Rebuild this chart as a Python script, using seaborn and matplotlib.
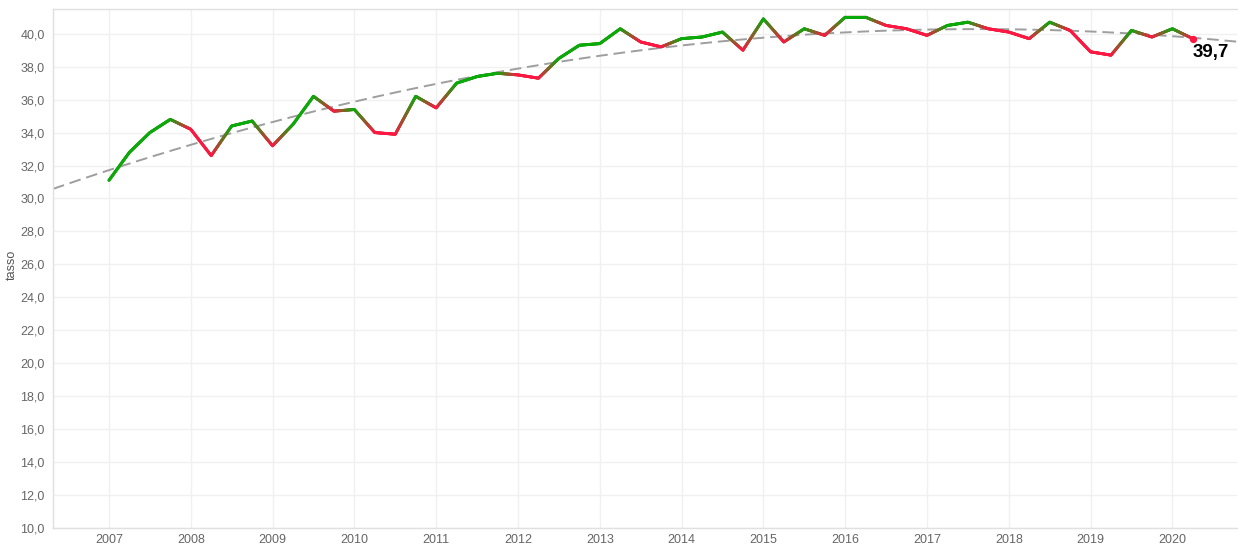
import numpy as np
import pandas as pd
import matplotlib
matplotlib.use("Agg")
import matplotlib.pyplot as plt
import seaborn as sns
from matplotlib.collections import LineCollection
from matplotlib.colors import to_rgb

# ---- data (quarterly, 2007 Q1 .. 2020 Q2) ----
years = [2007, 2008, 2009, 2010, 2011, 2012, 2013, 2014, 2015, 2016, 2017, 2018, 2019, 2020]
quarters = [0.0, 0.25, 0.5, 0.75]
tasso = [
    31.1, 32.8, 34.0, 34.8,   # 2007
    34.2, 32.6, 34.4, 34.7,   # 2008
    33.2, 34.5, 36.2, 35.3,   # 2009
    35.4, 34.0, 33.9, 36.2,   # 2010
    35.5, 37.0, 37.4, 37.6,   # 2011
    37.5, 37.3, 38.5, 39.3,   # 2012
    39.4, 40.3, 39.5, 39.2,   # 2013
    39.7, 39.8, 40.1, 39.0,   # 2014
    40.9, 39.5, 40.3, 39.9,   # 2015
    41.0, 41.0, 40.5, 40.3,   # 2016
    39.9, 40.5, 40.7, 40.3,   # 2017
    40.1, 39.7, 40.7, 40.2,   # 2018
    38.9, 38.7, 40.2, 39.8,   # 2019
    40.3, 39.7,               # 2020
]
y_ticks = list(np.arange(10, 41, 2))
last_label = "39,7"

time = [y + q for y in years for q in quarters][:len(tasso)]
df = pd.DataFrame({"time": time, "tasso": tasso})

GREEN = "#0aaa0a"
RED = "#ff1744"

sns.set_theme(style="white")
plt.rcParams["font.family"] = ["Liberation Sans", "DejaVu Sans"]

fig = plt.figure(figsize=(12.38, 5.44), dpi=100)
ax = fig.add_axes([53 / 1238, 1 - 528 / 544, (1237 - 53) / 1238, (528 - 9) / 544])

xmin, xmax = 2006.316, 2020.79
ax.set_xlim(xmin, xmax)
ax.set_ylim(10.0, 41.5)

# trend (quadratic fit)
coef = np.polyfit(df["time"] - 2013, df["tasso"], 2)
tx = np.linspace(xmin, xmax, 300)
trend = pd.DataFrame({"time": tx, "trend": np.polyval(coef, tx - 2013)})
sns.lineplot(data=trend, x="time", y="trend", ax=ax, color="#9e9e9e",
             linewidth=1.4, linestyle=(0, (6, 3)), zorder=2)

# base line (seaborn) then gradient overlay by up/down colouring
sns.lineplot(data=df, x="time", y="tasso", ax=ax, color="#7a6a20", linewidth=2.1, zorder=3)

vals = df["tasso"].to_numpy()
ts = df["time"].to_numpy()
pt_col = [np.array(to_rgb(GREEN))]
for i in range(1, len(vals)):
    pt_col.append(np.array(to_rgb(GREEN if vals[i] >= vals[i - 1] else RED)))

segs, cols = [], []
n_sub = 30
for i in range(len(vals) - 1):
    fr = np.linspace(0, 1, n_sub + 1)
    xs = ts[i] + (ts[i + 1] - ts[i]) * fr
    ys = vals[i] + (vals[i + 1] - vals[i]) * fr
    for k in range(n_sub):
        segs.append([(xs[k], ys[k]), (xs[k + 1], ys[k + 1])])
        f = (k + 0.5) / n_sub
        cols.append(pt_col[i] * (1 - f) + pt_col[i + 1] * f)
lc = LineCollection(segs, colors=cols, linewidths=2.1, capstyle="round", zorder=4)
ax.add_collection(lc)

ax.scatter([ts[-1]], [vals[-1]], s=18, color=RED if vals[-1] < vals[-2] else GREEN, zorder=5)
ax.annotate(last_label, (ts[-1], vals[-1]), xytext=(0, -4), textcoords="offset points",
            ha="left", va="top", fontsize=13.5, fontweight="bold", color="black", zorder=6)

# axes styling
ax.set_xticks(years)
ax.set_xticklabels([str(y) for y in years])
ax.set_yticks(y_ticks)
ax.set_yticklabels([f"{v:.1f}".replace(".", ",") for v in y_ticks])
ax.grid(True, color="#f0f0f0", linewidth=1)
ax.set_axisbelow(True)
ax.tick_params(axis="both", colors="#666666", labelsize=9, length=0, pad=4)
ax.tick_params(axis="y", length=4, color="#dddddd", pad=2)
for side in ["top", "left", "bottom"]:
    ax.spines[side].set_color("#e0e0e0")
    ax.spines[side].set_linewidth(1)
ax.spines["right"].set_visible(False)
ax.set_xlabel("")
ax.set_ylabel("tasso", color="#555555", fontsize=9)
ax.yaxis.set_label_coords(-0.0296, 0.507)

fig.savefig("out.png", dpi=100)
